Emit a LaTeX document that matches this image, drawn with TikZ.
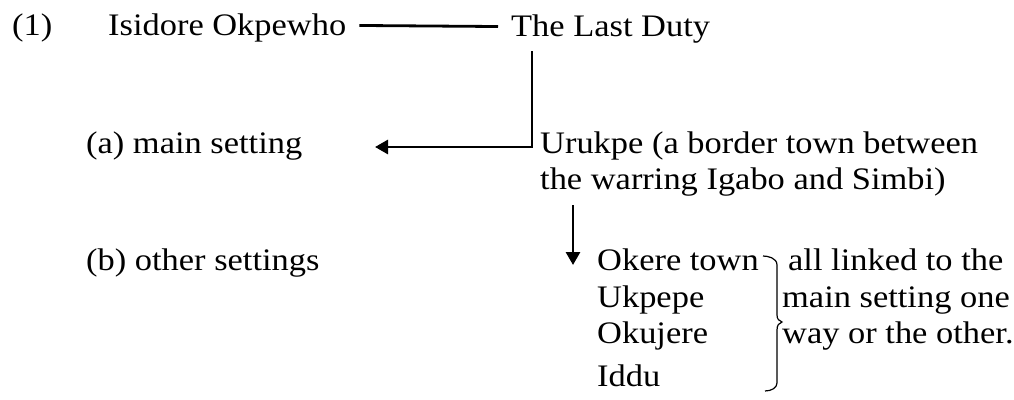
\documentclass[tikz,border=0pt]{standalone}
\usepackage{fontspec}
\setmainfont[FakeStretch=1.1]{Liberation Serif}
\usetikzlibrary{arrows.meta}
\begin{document}
\begin{tikzpicture}[x=1pt,y=1pt,
  lbl/.style={anchor=base west,inner sep=0pt,font=\fontsize{31.3}{36}\selectfont},
  conn/.style={line width=2.8pt},
  arr/.style={line width=2.8pt,-{Triangle[length=13pt,width=14pt]}}]
\useasboundingbox (0,0) rectangle (1014,-399);
\node[lbl] (num) at (12,-35) {(1)};
\node[lbl] (iso) at (108,-35) {Isidore Okpewho};
\node[lbl] (last) at (511,-36) {The Last Duty};
\node[lbl] (main) at (86,-153) {(a) main setting};
\node[lbl] (other) at (86,-270) {(b) other settings};
\node[lbl] (uru) at (540,-153) {Urukpe (a border town between};
\node[lbl] (war) at (540,-189) {the warring Igabo and Simbi)};
\node[lbl] (oke) at (597,-270) {Okere town};
\node[lbl] (ukp) at (597,-307) {Ukpepe};
\node[lbl] (oku) at (597,-343) {Okujere};
\node[lbl] (idd) at (597,-386) {Iddu};
\node[lbl] (all1) at (788,-270) {all linked to the};
\node[lbl] (all2) at (782,-307) {main setting one};
\node[lbl] (all3) at (782,-343) {way or the other.};
\coordinate (tipa) at (375,-147);
\coordinate (corner) at (532,-147);
\coordinate (topv) at (532,-51);
\coordinate (topd) at (573,-205);
\coordinate (tipd) at (573,-265);
\draw[conn] ([xshift=13pt,yshift=2pt]iso.east) -- ([xshift=-13pt,yshift=2pt]last.west);
\draw[arr] (topv) -- (corner) -- (tipa);
\draw[arr] (topd) -- (tipd);
\draw[line width=1.2pt] (763,-256) .. controls (768,-256) and (777,-258) .. (777,-265)
  -- (777,-315) .. controls (777,-319) and (779,-321) .. (782,-322)
  .. controls (779,-323) and (777,-325) .. (777,-330)
  -- (777,-383) .. controls (777,-388) and (771,-391) .. (765,-391);
\end{tikzpicture}
\end{document}
